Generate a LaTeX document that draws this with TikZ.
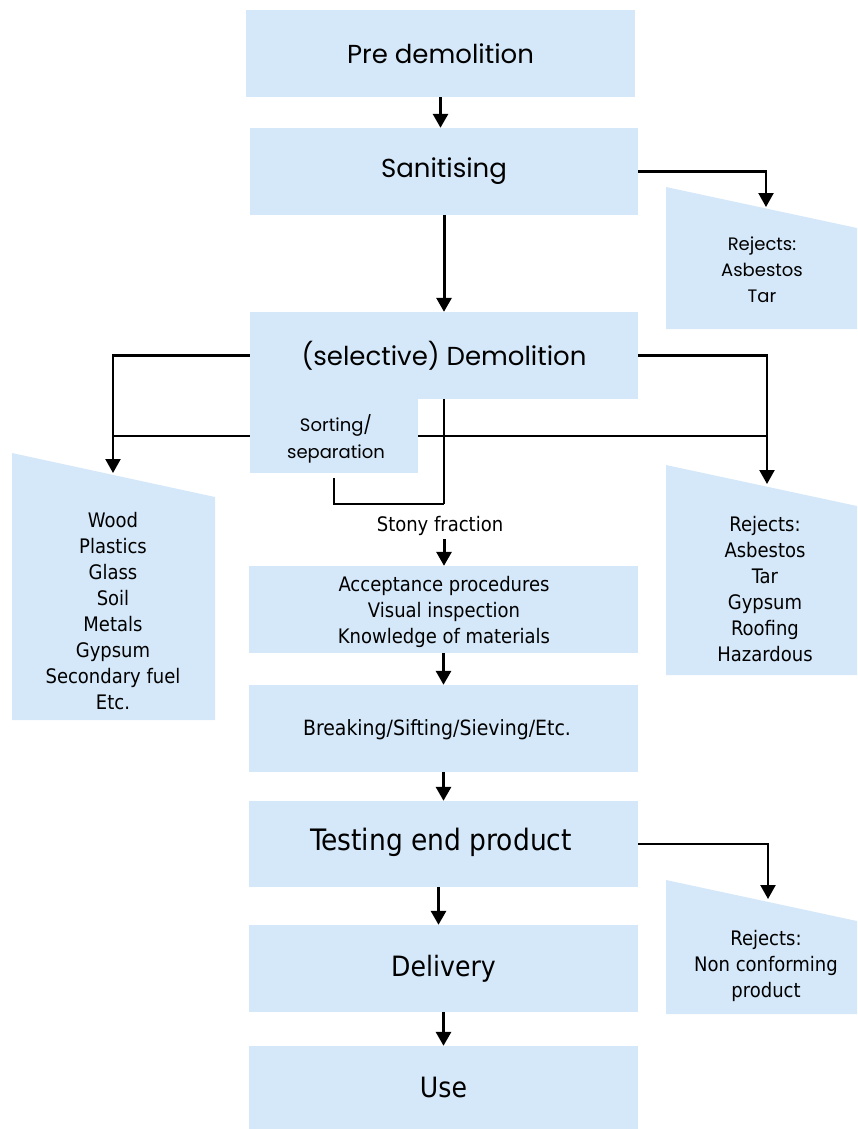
\documentclass[tikz,border=0pt]{standalone}
\usepackage{fontspec}
\setmainfont{DejaVu Sans Condensed}
\newfontfamily\geo{Poppins}
\usetikzlibrary{arrows.meta}
\definecolor{boxblue}{RGB}{213,232,249}

\tikzset{
  stage/.style={fill=boxblue, inner sep=0pt, minimum width=389pt, minimum height=87pt, align=center},
  reject/.style={fill=boxblue},
  flow/.style={line width=3pt, -{Triangle[width=15pt,length=14pt]}},
  link/.style={line width=2pt},
  linkarr/.style={line width=2.2pt, -{Triangle[width=15pt,length=14pt]}},
  big/.style={font=\fontsize{28}{34}\selectfont},
  geobig/.style={font=\geo\fontsize{26}{32}\selectfont},
  geosmall/.style={font=\geo\fontsize{18}{26}\selectfont, align=center},
  small/.style={font=\fontsize{20}{26}\selectfont, align=center},
  plain/.style={inner sep=0pt, align=center},
}

\begin{document}
\begin{tikzpicture}[x=1pt, y=-1pt]
\useasboundingbox (0,0) rectangle (857,1129);

% main process column
\node[stage, geobig] (pre) at (440.5,53.5) {Pre demolition};
\node[stage, geobig, minimum width=388pt] (san) at (444,171.5) {Sanitising};
\node[stage, geobig, minimum width=388pt] (dem) at (444,355.5) {(selective) Demolition};
\node[fill=boxblue, inner sep=0pt, minimum width=168pt, minimum height=74pt] (sort) at (334,436) {};
\node[plain, font=\geo\fontsize{18}{27}\selectfont] (sorttxt) at (336,439) {Sorting/\\separation};
\node[stage] (acc) at (443.5,609.5) {};
\node[plain, small] (acctxt) at (444,612) {Acceptance procedures\\Visual inspection\\Knowledge of materials};
\node[stage] (brk) at (443.5,728.5) {};
\node[plain, font=\fontsize{21}{26}\selectfont] (brktxt) at (437,730) {Breaking/Sifting/Sieving/Etc.};
\node[stage, font=\fontsize{29.5}{34}\selectfont, minimum height=86pt] (tst) at (443.5,844) {};
\node[plain, font=\fontsize{29.5}{34}\selectfont] (tsttxt) at (441,842) {Testing end product};
\node[stage, big] (del) at (443.5,968.5) {Delivery};
\node[stage, big, minimum height=83pt] (use) at (443.5,1087.5) {Use};

% outflow trapezoids
\fill[reject] (666,187) -- (857,228) -- (857,329) -- (666,329) -- cycle;
\node[geosmall] (rej1) at (762,270) {Rejects:\\Asbestos\\Tar};
\coordinate (t1) at (766,207);

\fill[reject] (12,453) -- (215,497) -- (215,720) -- (12,720) -- cycle;
\node[small] (frac) at (113,611) {Wood\\Plastics\\Glass\\Soil\\Metals\\Gypsum\\Secondary fuel\\Etc.};
\coordinate (tL) at (113,473);

\fill[reject] (666,465) -- (857,506) -- (857,675) -- (666,675) -- cycle;
\node[small] (rej2) at (765,589) {Rejects:\\Asbestos\\Tar\\Gypsum\\Roofing\\Hazardous};
\coordinate (t2) at (767,484);

\fill[reject] (666,880) -- (857,921) -- (857,1014) -- (666,1014) -- cycle;
\node[small] (rej3) at (766,965.5) {Rejects:\\Non conforming\\product};
\coordinate (t3) at (768,899);

% main flow arrows
\draw[flow] (pre.south) -- (san.north -| pre.south);
\draw[flow] (san.south) -- (dem.north);
\draw[flow] (acc.south) -- (brk.north);
\draw[flow] (brk.south) -- (tst.north);
\draw[flow] ([xshift=-5pt]tst.south) -- ([xshift=-5pt]del.north);
\draw[flow] (del.south) -- (use.north);

% side branches
\draw[linkarr] (san.east) -| (t1);
\draw[linkarr] (dem.west) -| (tL);
\draw[link] (sort.west) -- (sort.west -| tL);
\draw[linkarr] (dem.east) -| (t2);
\draw[link] (sort.east) -- (sort.east -| t2);
\draw[linkarr] (tst.east) -| (t3);

% stony fraction
\coordinate (j) at (444,504);
\draw[link] (dem.south -| j) -- (j);
\draw[link] ([yshift=-5pt]sort.south) |- (j);
\node[small] (stony) at (440,526) {Stony fraction};
\draw[flow] (stony.south -| j) -- (acc.north -| j);
\end{tikzpicture}
\end{document}
